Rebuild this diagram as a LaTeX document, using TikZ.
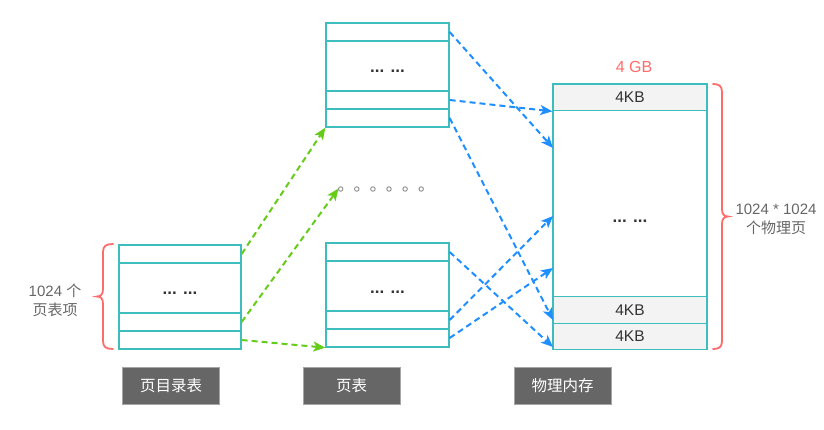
\documentclass[tikz,border=0pt]{standalone}
\usepackage{fontspec}
\setmainfont{Liberation Sans}
\newfontfamily\cjk{Noto Sans CJK SC}
\usetikzlibrary{arrows.meta}
\definecolor{tealb}{HTML}{3DBDBD}
\definecolor{greena}{HTML}{66CC1A}
\definecolor{bluea}{HTML}{1F8FFF}
\definecolor{redb}{HTML}{FF6B6B}
\definecolor{txt}{HTML}{333333}
\definecolor{side}{HTML}{666666}
\definecolor{lbl}{HTML}{666666}
\definecolor{memfill}{HTML}{F3F3F3}
\tikzset{
  rowbox/.style={draw=tealb, line width=1.3pt, inner sep=0pt, text=txt, font=\fontsize{15.5}{17}\selectfont},
  memrow/.style={rowbox, fill=memfill},
  greenarrow/.style={draw=greena, line width=2pt, dash pattern=on 6pt off 4pt, -{Stealth[length=12pt,width=10pt,inset=3pt]}},
  bluearrow/.style={draw=bluea, line width=2pt, dash pattern=on 6pt off 4pt, -{Stealth[length=12pt,width=10pt,inset=3pt]}},
  bracepath/.style={draw=redb, line width=1.8pt, line cap=round},
  sidetext/.style={text=side, font=\fontsize{15}{17}\selectfont, align=center, inner sep=0pt},
  labelbox/.style={draw=gray!70, fill=lbl, text=white, minimum width=97pt, minimum height=37pt, inner sep=0pt, font=\cjk\fontsize{15.5}{17}\selectfont},
  dotc/.style={circle, draw=gray!90, line width=0.9pt, minimum size=4.5pt, inner sep=0pt},
  ellip/.style={text=txt, font=\bfseries\fontsize{17}{18}\selectfont, inner sep=0pt}
}
\begin{document}
\begin{tikzpicture}[x=1pt,y=-1pt]
\useasboundingbox (0,0) rectangle (824,430);
% page directory
\node[rowbox, minimum width=122pt, minimum height=18pt] (d1) at (180,254) {};
\node[rowbox, minimum width=122pt, minimum height=50pt] (d2) at (180,288) {};
\node[rowbox, minimum width=122pt, minimum height=18pt] (d3) at (180,322) {};
\node[rowbox, minimum width=122pt, minimum height=18pt] (d4) at (180,340) {};
\node[ellip] (d2t) at (180,293) {... ...};
% top page table
\node[rowbox, minimum width=123pt, minimum height=18pt] (t1) at (387.5,32) {};
\node[rowbox, minimum width=123pt, minimum height=50pt] (t2) at (387.5,66) {};
\node[rowbox, minimum width=123pt, minimum height=18pt] (t3) at (387.5,100) {};
\node[rowbox, minimum width=123pt, minimum height=18pt] (t4) at (387.5,118) {};
\node[ellip] (t2t) at (387.5,71.5) {... ...};
% bottom page table
\node[rowbox, minimum width=123pt, minimum height=18pt] (b1) at (387.5,252) {};
\node[rowbox, minimum width=123pt, minimum height=50pt] (b2) at (387.5,286) {};
\node[rowbox, minimum width=123pt, minimum height=18pt] (b3) at (387.5,320) {};
\node[rowbox, minimum width=123pt, minimum height=18pt] (b4) at (387.5,338) {};
\node[ellip] (b2t) at (387.5,292) {... ...};
% dots
\foreach \i in {1,...,6} {
  \node[dotc] (dot\i) at ({340.7+16.1*(\i-1)},189) {};
}
% physical memory
\node[memrow, minimum width=154pt, minimum height=26.7pt] (p1) at (630,97.35) {4KB};
\node[rowbox, minimum width=154pt, minimum height=186pt] (p2) at (630,203.7) {};
\node[memrow, minimum width=154pt, minimum height=26.6pt] (p3) at (630,310) {4KB};
\node[memrow, minimum width=154pt, minimum height=26pt] (p4) at (630,336.3) {4KB};
\node[ellip] (p2t) at (630,221) {... ...};
\node[text=redb, font=\fontsize{16}{18}\selectfont, inner sep=0pt] (gb) at (634,66.5) {4 GB};
% braces
\draw[bracepath] (113,244) .. controls (106,244) and (103,246) .. (103,252) -- (103,289)
  .. controls (103,294) and (101,296.5) .. (97,296.5)
  .. controls (101,296.5) and (103,299) .. (103,304) -- (103,341)
  .. controls (103,347) and (106,349) .. (113,349);
\draw[bracepath] (713,84) .. controls (719,84) and (722,86) .. (722,92) -- (722,209)
  .. controls (722,214) and (724,216.5) .. (728,216.5)
  .. controls (724,216.5) and (722,219) .. (722,224) -- (722,341)
  .. controls (722,347) and (719,349) .. (713,349);
% side texts
\node[sidetext] (lt1) at (55,291) {1024 {\cjk 个}};
\node[sidetext] (lt2) at (55,310) {\cjk 页表项};
\node[sidetext] (rt1) at (776,209) {1024 * 1024};
\node[sidetext] (rt2) at (776,228) {\cjk 个物理页};
% labels
\node[labelbox] (l1) at (171,385.5) {页目录表};
\node[labelbox] (l2) at (351.5,385.5) {页表};
\node[labelbox] (l3) at (562.5,385.5) {物理内存};
% arrow targets
\coordinate (g2) at (338.5,188.5);
\coordinate (m1) at (553,148);
\coordinate (m2) at (553,216);
\coordinate (m3) at (553,268);
\coordinate (m4) at (553,320);
\coordinate (m5) at (553,347);
% green arrows
\draw[greenarrow] (d1.east) -- (t4.south west);
\draw[greenarrow] (d3.east) -- (g2);
\draw[greenarrow] (d4.east) -- (b4.south west);
% blue arrows
\draw[bluearrow] (t1.east) -- (m1);
\draw[bluearrow] (t3.east) -- (p1.south west);
\draw[bluearrow] (t4.east) -- (m4);
\draw[bluearrow] (b1.east) -- (m5);
\draw[bluearrow] (b3.east) -- (m2);
\draw[bluearrow] (b4.east) -- (m3);
\end{tikzpicture}
\end{document}
